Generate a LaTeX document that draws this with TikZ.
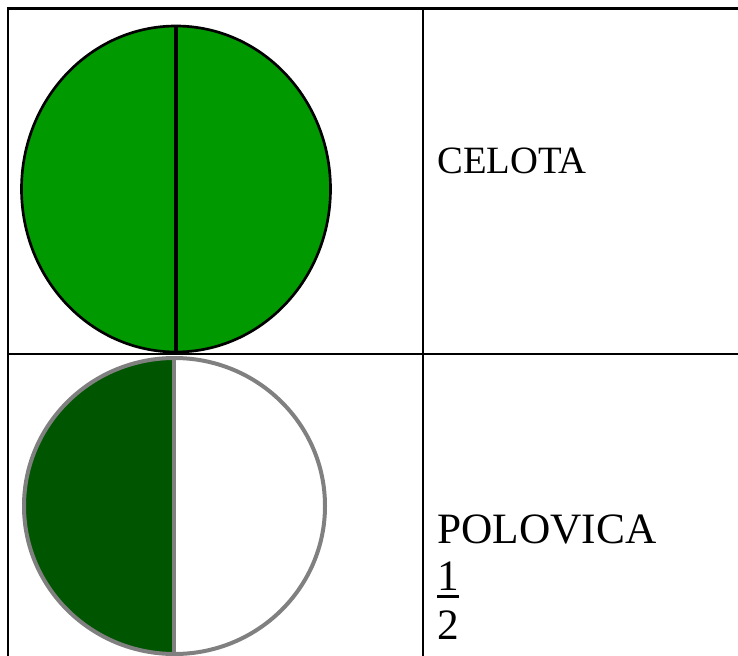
\documentclass[tikz,border=0pt]{standalone}
\usepackage{fontspec}
\setmainfont{Liberation Serif}
\usepackage{tikz}
\usetikzlibrary{positioning}
\definecolor{Leaf}{HTML}{009900}
\definecolor{DarkLeaf}{HTML}{005500}
\definecolor{Rim}{HTML}{808080}
\newcommand{\fracnum}[1]{\vtop{\hbox{#1}\kern4pt\hrule height 2.1pt}}
\tikzset{
  gridline/.style={black,line width=1.6pt},
  label/.style={anchor=base west,inner sep=0pt},
  bigtext/.style={font=\fontsize{32.5}{38}\selectfont}
}

\begin{document}
\begin{tikzpicture}[x=0.75pt,y=-0.75pt]
  \useasboundingbox (0,0) rectangle (738,656);
  \clip (0,0) rectangle (738,656);
  % table
  \draw[gridline] (8,8.5) rectangle (760,700);
  \draw[gridline] (423,8.5) -- (423,700);
  \draw[gridline] (8,354) -- (760,354);
  % whole
  \fill[Leaf] (176,189) ellipse [x radius=154.5,y radius=163];
  \draw[black,line width=2pt] (176,189) ellipse [x radius=154.5,y radius=163];
  \draw[black,line width=2.4pt] (176,26) -- (176,352);
  % half
  \begin{scope}
    \clip (0,340) rectangle (174,700);
    \fill[DarkLeaf] (174.5,506) ellipse [x radius=150.5,y radius=148];
  \end{scope}
  \draw[Rim,line width=3pt] (174.5,506) ellipse [x radius=150.5,y radius=148];
  \draw[Rim,line width=3pt] (174,358) -- (174,656);
  % texts
  \node[label,font=\fontsize{29}{34}\selectfont] (whole) at (437,173) {CELOTA};
  \node[label,bigtext] (half) at (437,543) {POLOVICA};
  \node[label,bigtext] (num) at (437,590) {\fracnum{1}};
  \node[label,bigtext] (den) at (437,639) {2};
\end{tikzpicture}
\end{document}
